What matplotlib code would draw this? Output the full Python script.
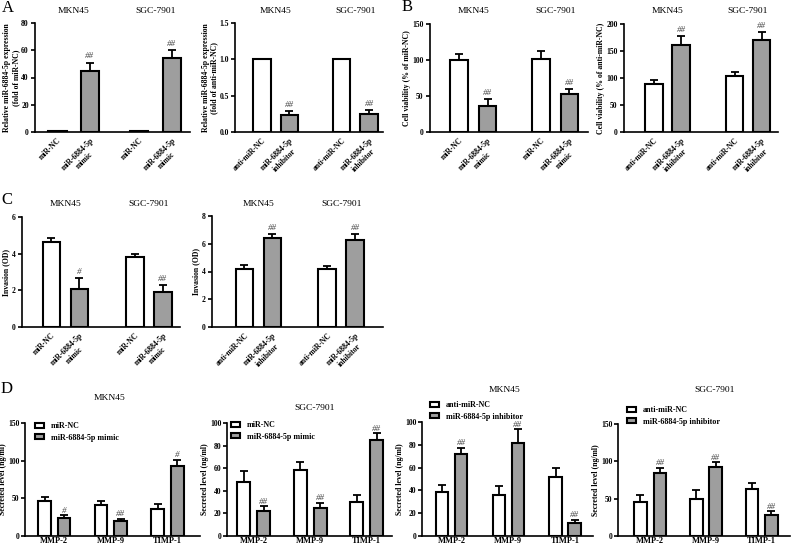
import matplotlib
matplotlib.use("Agg")
import matplotlib.pyplot as plt
from matplotlib.patches import Patch
from matplotlib.transforms import blended_transform_factory

plt.rcParams['font.family'] = ['Liberation Serif', 'DejaVu Serif']
plt.rcParams['font.weight'] = 'bold'

# ---------------- data ----------------
cell_lines = ["MKN45", "SGC-7901"]
mimic_groups = ["miR-NC", "miR-6884-5p\nmimic"]
inhib_groups = ["anti-miR-NC", "miR-6884-5p\ninhibitor"]

a_mimic_mean = [[1.0, 45.0], [1.0, 54.0]]
a_mimic_err = [[0.0, 6.0], [0.0, 6.0]]
a_mimic_sig = ["##", "##"]
a_inhib_mean = [[1.0, 0.24], [1.0, 0.25]]
a_inhib_err = [[0.0, 0.05], [0.0, 0.05]]
a_inhib_sig = ["##", "##"]

b_mimic_mean = [[100.0, 36.5], [101.0, 53.0]]
b_mimic_err = [[9.0, 9.0], [11.0, 7.0]]
b_mimic_sig = ["##", "##"]
b_inhib_mean = [[89.5, 162.0], [103.0, 170.0]]
b_inhib_err = [[7.5, 15.0], [9.0, 15.0]]
b_inhib_sig = ["##", "##"]

c_mimic_mean = [[4.65, 2.08], [3.80, 1.93]]
c_mimic_err = [[0.21, 0.60], [0.18, 0.37]]
c_mimic_sig = ["#", "##"]
c_inhib_mean = [[4.18, 6.42], [4.15, 6.30]]
c_inhib_err = [[0.28, 0.31], [0.24, 0.43]]
c_inhib_sig = ["##", "##"]

factors = ["MMP-2", "MMP-9", "TIMP-1"]
mimic_legend = ["miR-NC", "miR-6884-5p mimic"]
inhib_legend = ["anti-miR-NC", "miR-6884-5p inhibitor"]

d_mkn_nc = [46.0, 41.0, 36.0]
d_mkn_nc_err = [6.0, 6.0, 6.0]
d_mkn_mimic = [24.0, 20.0, 93.5]
d_mkn_mimic_err = [4.0, 3.0, 8.0]
d_mkn_mimic_sig = ["#", "##", "#"]

d_sgc_nc = [47.5, 58.0, 30.0]
d_sgc_nc_err = [10.0, 7.5, 6.0]
d_sgc_mimic = [22.0, 25.0, 85.0]
d_sgc_mimic_err = [4.5, 4.5, 6.0]
d_sgc_mimic_sig = ["##", "##", "##"]

d_mkn_anc = [39.0, 36.0, 52.0]
d_mkn_anc_err = [6.0, 8.0, 8.0]
d_mkn_inhib = [71.5, 82.0, 11.8]
d_mkn_inhib_err = [6.0, 11.5, 2.5]
d_mkn_inhib_sig = ["##", "##", "##"]

d_sgc_anc = [45.7, 49.0, 62.7]
d_sgc_anc_err = [9.0, 12.0, 8.0]
d_sgc_inhib = [84.5, 92.0, 28.0]
d_sgc_inhib_err = [7.0, 6.5, 5.6]
d_sgc_inhib_sig = ["##", "##", "##"]

# ---------------- style ----------------
W, H = 792, 547
fig = plt.figure(figsize=(W / 100, H / 100), dpi=100)
COLORS = ["white", "#9e9e9e"]
EDGE_LW = 1.5
TICK_FS = 5.5
LABEL_FS = 5.6
TITLE_FS = 6.8


def add_ax(l, t, r, b):
    return fig.add_axes([l / W, 1 - b / H, (r - l) / W, (b - t) / H])


def style_ax(ax, ylim, yticks, ylabel, yfmt=None, labelpad=1, tickpad=1.5):
    for s in ["top", "right"]:
        ax.spines[s].set_visible(False)
    for s in ["left", "bottom"]:
        ax.spines[s].set_linewidth(1.2)
    ax.set_ylim(*ylim)
    ax.set_yticks(yticks)
    if yfmt:
        ax.set_yticklabels([yfmt.format(v) for v in yticks])
    ax.tick_params(axis='y', direction='out', length=3, width=1.2,
                   labelsize=TICK_FS, pad=tickpad)
    ax.set_ylabel(ylabel, fontsize=LABEL_FS, fontweight='bold', labelpad=labelpad,
                  linespacing=1.05)


def draw_bar(ax, x, m, e, i, width, sig=None, sig_off=1.5):
    ax.bar(x, m, width, color=COLORS[i], edgecolor='black', linewidth=EDGE_LW,
           zorder=3)
    if e > 0:
        ax.errorbar(x, m, yerr=[[0], [e]], fmt='none', ecolor='black',
                    elinewidth=1.3, capsize=width * 4.5, capthick=1.3, zorder=2)
    if sig:
        ax.annotate(sig, (x, m + e), xytext=(0, sig_off), textcoords='offset points',
                    ha='center', va='bottom', fontsize=6.5, fontweight='normal',
                    color='#444444', fontstyle='italic')


def two_group(box, means, errs, sigs, labels, gap, width, xlim, ylim, yticks,
              ylabel, title_y, yfmt=None):
    ax = add_ax(*box)
    xs = []
    xl = []
    for g in range(2):
        for i in range(2):
            x = g * gap + i
            draw_bar(ax, x, means[g][i], errs[g][i], i, width,
                     sig=sigs[g] if i == 1 else None)
            xs.append(x)
            xl.append(labels[i])
    ax.set_xlim(*xlim)
    style_ax(ax, ylim, yticks, ylabel, yfmt)
    ax.set_xticks(xs)
    ax.set_xticklabels(xl, rotation=45, ha='right', va='top',
                       rotation_mode='anchor', fontsize=TICK_FS,
                       multialignment='center', linespacing=1.3)
    ax.tick_params(axis='x', length=0, pad=3)
    tr = blended_transform_factory(ax.transData, fig.transFigure)
    for g in range(2):
        ax.text(g * gap + 0.5, 1 - title_y / H, cell_lines[g], transform=tr,
                ha='center', va='center', fontsize=TITLE_FS, fontweight='normal')
    return ax


def three_group(box, nc, nc_err, tr_m, tr_err, sigs, legend_labels, gap, xlim,
                ylim, yticks, title, title_xy, legend_xy):
    ax = add_ax(*box)
    width = 0.65
    for k in range(3):
        draw_bar(ax, k * gap, nc[k], nc_err[k], 0, width)
        draw_bar(ax, k * gap + 1, tr_m[k], tr_err[k], 1, width, sig=sigs[k],
                 sig_off=0.2)
    ax.set_xlim(*xlim)
    style_ax(ax, ylim, yticks, "Secreted level (ng/ml)", labelpad=0.5, tickpad=1)
    ax.set_xticks([k * gap + 0.5 for k in range(3)])
    ax.set_xticklabels(factors, fontsize=6.0)
    ax.tick_params(axis='x', length=0, pad=1)
    fig.text(title_xy[0] / W, 1 - title_xy[1] / H, title, ha='center',
             va='center', fontsize=TITLE_FS, fontweight='normal')
    handles = [Patch(facecolor=COLORS[i], edgecolor='black', linewidth=1.5)
               for i in range(2)]
    ax.legend(handles, legend_labels, loc='upper left',
              bbox_to_anchor=(legend_xy[0] / W, 1 - legend_xy[1] / H),
              bbox_transform=fig.transFigure, frameon=False, fontsize=5.8,
              handlelength=1.1, handleheight=0.55, handletextpad=0.9,
              labelspacing=0.45, borderpad=0, borderaxespad=0)
    return ax


# ---------------- panel A ----------------
two_group((35, 23, 190, 132), a_mimic_mean, a_mimic_err, a_mimic_sig, mimic_groups,
          2.52, 0.56, (-0.69, 4.08), (0, 80), [0, 20, 40, 60, 80],
          "Relative miR-6884-5p expression\n(fold of miR-NC)", 11)
two_group((235, 23, 383, 132), a_inhib_mean, a_inhib_err, a_inhib_sig, inhib_groups,
          2.89, 0.65, (-0.98, 4.4), (0, 1.5), [0, 0.5, 1.0, 1.5],
          "Relative miR-6884-5p expression\n(fold of anti-miR-NC)", 11, yfmt="{:.1f}")

# ---------------- panel B ----------------
two_group((430, 24, 588, 132), b_mimic_mean, b_mimic_err, b_mimic_sig, mimic_groups,
          2.88, 0.63, (-1.02, 4.53), (0, 150), [0, 50, 100, 150],
          "Cell viability (% of miR-NC)", 11)
two_group((624, 24, 778, 132), b_inhib_mean, b_inhib_err, b_inhib_sig, inhib_groups,
          2.98, 0.66, (-1.11, 4.59), (0, 200), [0, 50, 100, 150, 200],
          "Cell viability (% of anti-miR-NC)", 11)

# ---------------- panel C ----------------
two_group((22, 217, 180, 327), c_mimic_mean, c_mimic_err, c_mimic_sig, mimic_groups,
          2.98, 0.62, (-1.05, 4.59), (0, 6), [0, 2, 4, 6],
          "Invasion (OD)", 204)
two_group((212, 216, 383, 327), c_inhib_mean, c_inhib_err, c_inhib_sig, inhib_groups,
          2.96, 0.63, (-1.16, 4.95), (0, 8), [0, 2, 4, 6, 8],
          "Invasion (OD)", 204)

# ---------------- panel D ----------------
three_group((25, 423, 200, 536), d_mkn_nc, d_mkn_nc_err, d_mkn_mimic, d_mkn_mimic_err,
            d_mkn_mimic_sig, mimic_legend, 2.9, (-1.0, 7.97), (0, 150),
            [0, 50, 100, 150], "MKN45", (110, 398), (35, 422))
three_group((227, 423, 392, 536), d_sgc_nc, d_sgc_nc_err, d_sgc_mimic, d_sgc_mimic_err,
            d_sgc_mimic_sig, mimic_legend, 2.83, (-0.83, 7.43), (0, 100),
            [0, 20, 40, 60, 80, 100], "SGC-7901", (315, 408), (231, 421))
three_group((422, 422, 593, 536), d_mkn_anc, d_mkn_anc_err, d_mkn_inhib, d_mkn_inhib_err,
            d_mkn_inhib_sig, inhib_legend, 2.99, (-1.05, 7.95), (0, 100),
            [0, 20, 40, 60, 80, 100], "MKN45", (505, 390), (430, 401))
three_group((618, 424, 790, 536), d_sgc_anc, d_sgc_anc_err, d_sgc_inhib, d_sgc_inhib_err,
            d_sgc_inhib_sig, inhib_legend, 2.86, (-1.15, 7.67), (0, 150),
            [0, 50, 100, 150], "SGC-7901", (715, 390), (627, 406))

# ---------------- panel letters ----------------
for letter, (x, y) in {"A": (8, 8), "B": (407, 7), "C": (7, 200), "D": (7, 389)}.items():
    fig.text(x / W, 1 - y / H, letter, ha='center', va='center', fontsize=12,
             fontweight='normal')

fig.savefig("out.png", dpi=100)
